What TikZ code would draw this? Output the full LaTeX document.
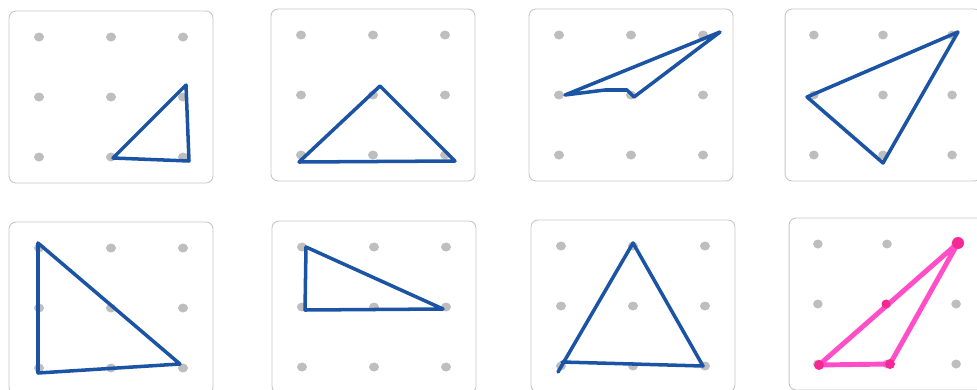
\documentclass[tikz,border=0pt]{standalone}
\definecolor{pegcolor}{RGB}{190,190,190}
\definecolor{inkblue}{RGB}{28,84,165}
\definecolor{marker}{RGB}{255,78,200}
\definecolor{markerdot}{RGB}{245,40,150}
\tikzset{
    peg/.style={fill=pegcolor,draw=none},
    ink/.style={draw=inkblue,line width=2pt,line join=round,line cap=round},
    highlight/.style={draw=marker,line width=2.8pt,line join=round,line cap=round},
    vertex/.style={fill=markerdot,draw=none},
    board/.pic={
        \draw[gray!45,line width=0.5pt,rounded corners=4pt] (-102,-86) rectangle (102,86);
        \foreach \i in {-1,0,1}
            \foreach \j in {-1,0,1}
                \fill[peg] (72*\i,60*\j) ellipse (0.1cm and 0.09cm);
    }
}
\begin{document}
\begin{tikzpicture}[x=0.02cm,y=-0.02cm]
    \useasboundingbox (0,0) rectangle (977,389);
    \clip (0,0) rectangle (977,389);
    % top row
    \pic at (111,97) {board};
    \pic at (373,95) {board};
    \pic at (631,95) {board};
    \pic[xscale=0.96] at (883,95) {board};
    % bottom row
    \pic at (111,308) {board};
    \pic at (374,307) {board};
    \pic at (633,306) {board};
    \pic[xscale=0.96] at (887,304) {board};
    % triangles
    \draw[ink] (113,158) -- (186,85) -- (189,161) -- cycle;
    \draw[ink] (299,162) -- (380,86) -- (455,161) -- cycle;
    \draw[ink] (565,95) -- (720,32) -- (634,97) -- (627,90) -- (605,90) -- cycle;
    \draw[ink] (807,97) -- (958,32) -- (883,163) -- cycle;
    \draw[ink] (38,243) -- (38,373) -- (180,364) -- cycle;
    \draw[ink] (306,247) -- (443,309) -- (305,310) -- cycle;
    \draw[ink] (558,372) -- (633,243) -- (703,366) -- (562,362);
    \draw[highlight] (819,365) -- (958,243) -- (890,364) -- cycle;
    \fill[vertex] (819,365) circle (0.1cm);
    \fill[vertex] (890,364) circle (0.1cm);
    \fill[vertex] (958,243) circle (0.12cm);
    \fill[vertex] (886,304) circle (0.09cm);
\end{tikzpicture}
\end{document}
